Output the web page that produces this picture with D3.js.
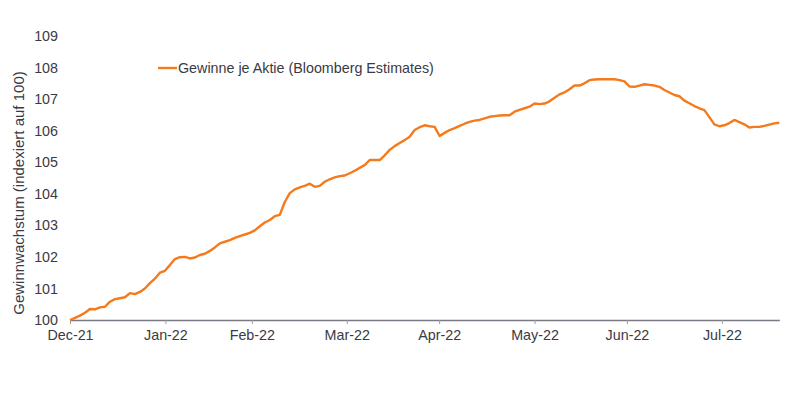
<!DOCTYPE html>
<html>
<head>
<meta charset="utf-8">
<script src="https://cdn.jsdelivr.net/npm/d3@7"></script>
<style>
  body { margin: 0; background: #fff; }
  svg text { font-family: "Liberation Sans", Arial, sans-serif; fill: #3a3a44; }
</style>
</head>
<body>
<div id="chart"></div>
<script>
// Gewinne je Aktie, indexiert auf 100 (evenly spaced points)
var values = [
  100.00, 100.07, 100.14, 100.23, 100.35, 100.34, 100.40, 100.42, 100.58, 100.66,
  100.69, 100.72, 100.85, 100.82, 100.89, 101.00, 101.17, 101.31, 101.50, 101.56,
  101.74, 101.93, 101.99, 102.00, 101.95, 101.98, 102.06, 102.10, 102.19, 102.30,
  102.43, 102.48, 102.53, 102.60, 102.66, 102.71, 102.76, 102.84, 102.97, 103.09,
  103.17, 103.29, 103.33, 103.74, 104.02, 104.14, 104.20, 104.25, 104.32, 104.22,
  104.25, 104.38, 104.46, 104.52, 104.56, 104.58, 104.65, 104.73, 104.82, 104.91,
  105.07, 105.07, 105.07, 105.22, 105.39, 105.51, 105.61, 105.70, 105.81, 106.02,
  106.11, 106.17, 106.14, 106.12, 105.83, 105.93, 106.02, 106.08, 106.15, 106.22,
  106.28, 106.32, 106.34, 106.39, 106.44, 106.46, 106.48, 106.49, 106.49, 106.60,
  106.66, 106.71, 106.76, 106.86, 106.84, 106.86, 106.93, 107.04, 107.15, 107.21,
  107.31, 107.43, 107.43, 107.50, 107.60, 107.62, 107.63, 107.63, 107.63, 107.63,
  107.60, 107.56, 107.40, 107.39, 107.43, 107.47, 107.45, 107.43, 107.39, 107.29,
  107.21, 107.13, 107.09, 106.95, 106.87, 106.78, 106.71, 106.65, 106.43, 106.20,
  106.14, 106.17, 106.24, 106.34, 106.27, 106.20, 106.10, 106.12, 106.12, 106.15,
  106.19, 106.23, 106.25
];

// month ticks (position in the series) and their labels
var tickPos = [0, 19.1, 36.4, 55.4, 73.9, 93.0, 111.5, 130.5];
var tickLabels = ["Dec-21", "Jan-22", "Feb-22", "Mar-22", "Apr-22", "May-22", "Jun-22", "Jul-22"];

var yTicks = [100, 101, 102, 103, 104, 105, 106, 107, 108, 109];

var seriesName = "Gewinne je Aktie (Bloomberg Estimates)";
var yTitle = "Gewinnwachstum (indexiert auf 100)";

var width = 800, height = 394;
var lineColor = "#f47a1c";

var svg = d3.select("#chart")
    .append("svg")
    .attr("width", width)
    .attr("height", height);

var x = d3.scaleLinear()
    .domain([0, values.length - 1])
    .range([70, 779.3]);

var y = d3.scaleLinear()
    .domain([100, 109])
    .range([320, 36]);

// x axis
var xAxis = d3.axisBottom(x)
    .tickValues(tickPos)
    .tickFormat(function(d, i) { return tickLabels[i]; })
    .tickSize(4)
    .tickSizeOuter(0)
    .tickPadding(6);

var gx = svg.append("g")
    .attr("transform", "translate(0," + y(100) + ")")
    .call(xAxis);
gx.select(".domain").attr("stroke", "#7a7a84").attr("stroke-width", 1.3);
gx.selectAll(".tick line").attr("stroke", "#9a9aa2");
gx.selectAll(".tick text")
    .style("font-size", "14.3px")
    .attr("fill", "#3a3a44");

// y axis labels only
var gy = svg.append("g")
    .attr("transform", "translate(58,0)")
    .call(d3.axisLeft(y).tickValues(yTicks).tickSize(0).tickPadding(0));
gy.select(".domain").remove();
gy.selectAll(".tick text")
    .style("font-size", "14.3px")
    .attr("fill", "#3a3a44");

// y title
svg.append("text")
    .attr("transform", "translate(24,193) rotate(-90)")
    .attr("text-anchor", "middle")
    .style("font-size", "15px")
    .text(yTitle);

// line
var line = d3.line()
    .x(function(d, i) { return x(i); })
    .y(function(d) { return y(d); });

svg.append("path")
    .datum(values)
    .attr("fill", "none")
    .attr("stroke", lineColor)
    .attr("stroke-width", 2.4)
    .attr("stroke-linejoin", "round")
    .attr("d", line);

// legend
var legend = svg.append("g").attr("transform", "translate(158,68)");
legend.append("line")
    .attr("x1", 0).attr("x2", 19)
    .attr("stroke", lineColor)
    .attr("stroke-width", 2.4);
legend.append("text")
    .attr("x", 20)
    .attr("y", 5)
    .style("font-size", "14.3px")
    .text(seriesName);
</script>
</body>
</html>
